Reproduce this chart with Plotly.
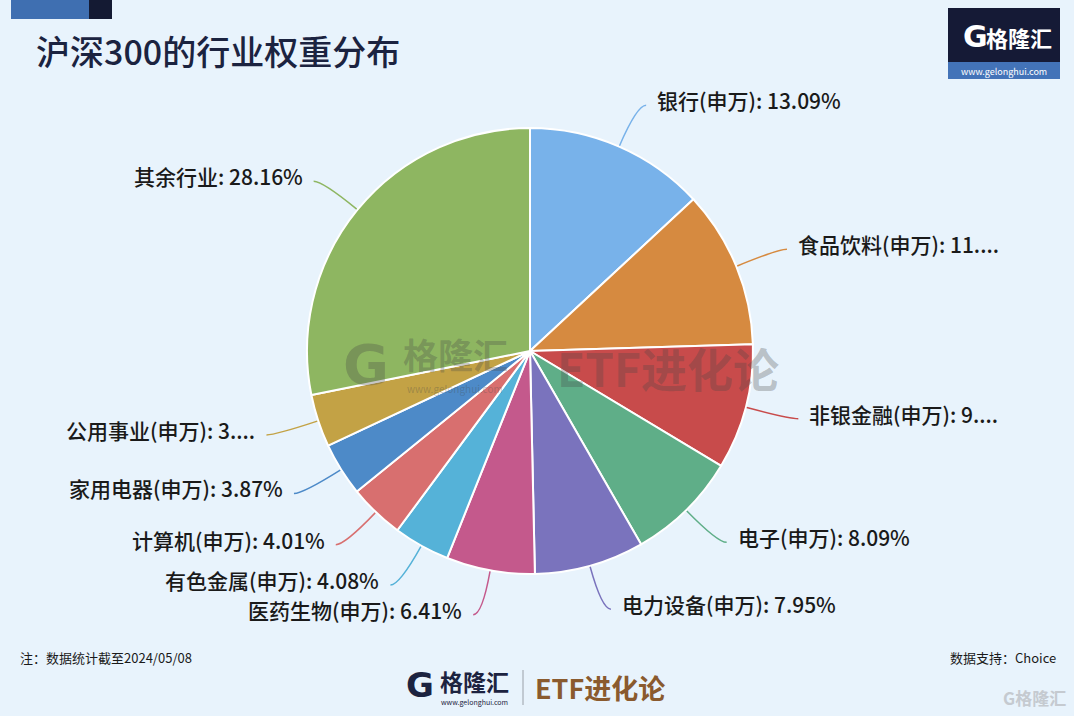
import math
import plotly.graph_objects as go

# ---------------- data ----------------
categories = ["银行(申万)", "食品饮料(申万)", "非银金融(申万)", "电子(申万)", "电力设备(申万)",
              "医药生物(申万)", "有色金属(申万)", "计算机(申万)", "家用电器(申万)", "公用事业(申万)", "其余行业"]
weights = [13.09, 11.43, 9.09, 8.09, 7.95, 6.41, 4.08, 4.01, 3.87, 3.82, 28.16]
truncated = [False, True, True, False, False, False, False, False, False, True, False]
colors = ["#78b2ea", "#d68a40", "#c84b4b", "#5fae88", "#7a73bd", "#c4598c",
          "#55b2d8", "#d86f6f", "#4d8ac8", "#c3a245", "#8eb661"]

title_text = "沪深300的行业权重分布"
note_text = "注：数据统计截至2024/05/08"
source_text = "数据支持：Choice"

# ---------------- geometry ----------------
W, H = 1074, 716
cx, cy, R = 530, 351, 223
BG = "#e8f3fc"
FONT = "Noto Sans CJK SC"


def px(x):
    return x / W


def py(y):
    return 1 - y / H


fig = go.Figure()
fig.add_trace(go.Pie(
    labels=categories,
    values=weights,
    sort=False,
    direction="clockwise",
    rotation=0,
    textinfo="none",
    hoverinfo="label+percent",
    marker=dict(colors=colors, line=dict(color="white", width=2)),
    domain=dict(x=[px(cx - R), px(cx + R)], y=[py(cy + R), py(cy - R)]),
    showlegend=False,
))

shapes = []
annotations = []

total = sum(weights)
cum = 0.0
for cat, w, tr, col in zip(categories, weights, truncated, colors):
    theta = 2 * math.pi * (cum + w / 2) / total
    cum += w
    s, c = math.sin(theta), math.cos(theta)
    x0, y0 = cx + (R + 1) * s, cy - (R + 1) * c
    x1, y1 = cx + (R + 45) * s, cy - (R + 45) * c
    sign = 1 if s >= 0 else -1
    x2, y2 = x1 + sign * 9, y1
    shapes.append(dict(
        type="path", xref="paper", yref="paper",
        path=f"M {px(x0)},{py(y0)} Q {px(x1)},{py(y1)} {px(x2)},{py(y2)}",
        line=dict(color=col, width=1.5),
    ))
    val = f"{int(w)}...." if tr else f"{w:.2f}%"
    annotations.append(dict(
        x=px(x2 + sign * 9), y=py(y2 - 5), xref="paper", yref="paper",
        text=f"{cat}: {val}", showarrow=False,
        xanchor="left" if sign > 0 else "right", yanchor="middle",
        font=dict(family=FONT, size=21, color="#1a1a1a", weight=500),
    ))

# ---------------- decorations ----------------
# top-left bars
shapes.append(dict(type="rect", xref="paper", yref="paper", x0=px(11), x1=px(89), y0=py(19), y1=py(0),
                   fillcolor="#3f6fb1", line=dict(width=0)))
shapes.append(dict(type="rect", xref="paper", yref="paper", x0=px(89), x1=px(112), y0=py(19), y1=py(0),
                   fillcolor="#141a33", line=dict(width=0)))
# top-right logo box
shapes.append(dict(type="rect", xref="paper", yref="paper", x0=px(948), x1=px(1060), y0=py(62), y1=py(8),
                   fillcolor="#151a36", line=dict(width=0)))
shapes.append(dict(type="rect", xref="paper", yref="paper", x0=px(948), x1=px(1060), y0=py(79), y1=py(62),
                   fillcolor="#4373b8", line=dict(width=0)))
# bottom separator
shapes.append(dict(type="line", xref="paper", yref="paper", x0=px(523), x1=px(523), y0=py(705), y1=py(670),
                   line=dict(color="#9aa0a8", width=1)))


def ann(text, x, y, size, color, anchor="left", weight="normal", family=FONT):
    annotations.append(dict(x=px(x), y=py(y), xref="paper", yref="paper", text=text, showarrow=False,
                            xanchor=anchor, yanchor="middle",
                            font=dict(family=family, size=size, color=color, weight=weight)))


ann(title_text, 34, 51, 34, "#1b2340", weight=500)

# top right logo
ann("G", 975, 36, 30, "white", "center", "bold", "DejaVu Sans")
ann("格隆汇", 1019, 37, 22, "white", "center", "bold")
ann("www.gelonghui.com", 1004, 71, 9, "white", "center")

# watermark
wm = "rgba(70,70,70,0.30)"
ann("G", 366, 364, 56, wm, "center", "bold", "DejaVu Sans")
ann("格隆汇", 455, 354, 35, wm, "center", "bold")
ann("www.gelonghui.com", 455, 388, 10, wm, "center")
ann("ETF进化论", 555, 367, 46, wm, "left", "bold")

# footer
ann(note_text, 18, 657, 13, "#1a1a1a")
ann(source_text, 1058, 657, 13, "#1a1a1a", "right")
ann("G", 420, 685, 34, "#1c2340", "center", "bold", "DejaVu Sans")
ann("格隆汇", 474, 681, 23, "#1c2340", "center", "bold")
ann("www.gelonghui.com", 474, 702, 7, "#1c2340", "center")
ann("ETF进化论", 533, 687, 27, "#8a5a2e", "left", "bold")
ann("G格隆汇", 1068, 697, 17, "#c5cad0", "right", "bold")

fig.update_layout(
    width=W, height=H,
    margin=dict(l=0, r=0, t=0, b=0),
    paper_bgcolor=BG, plot_bgcolor=BG,
    shapes=shapes, annotations=annotations,
    font=dict(family=FONT),
)

fig.write_html("out.html")
